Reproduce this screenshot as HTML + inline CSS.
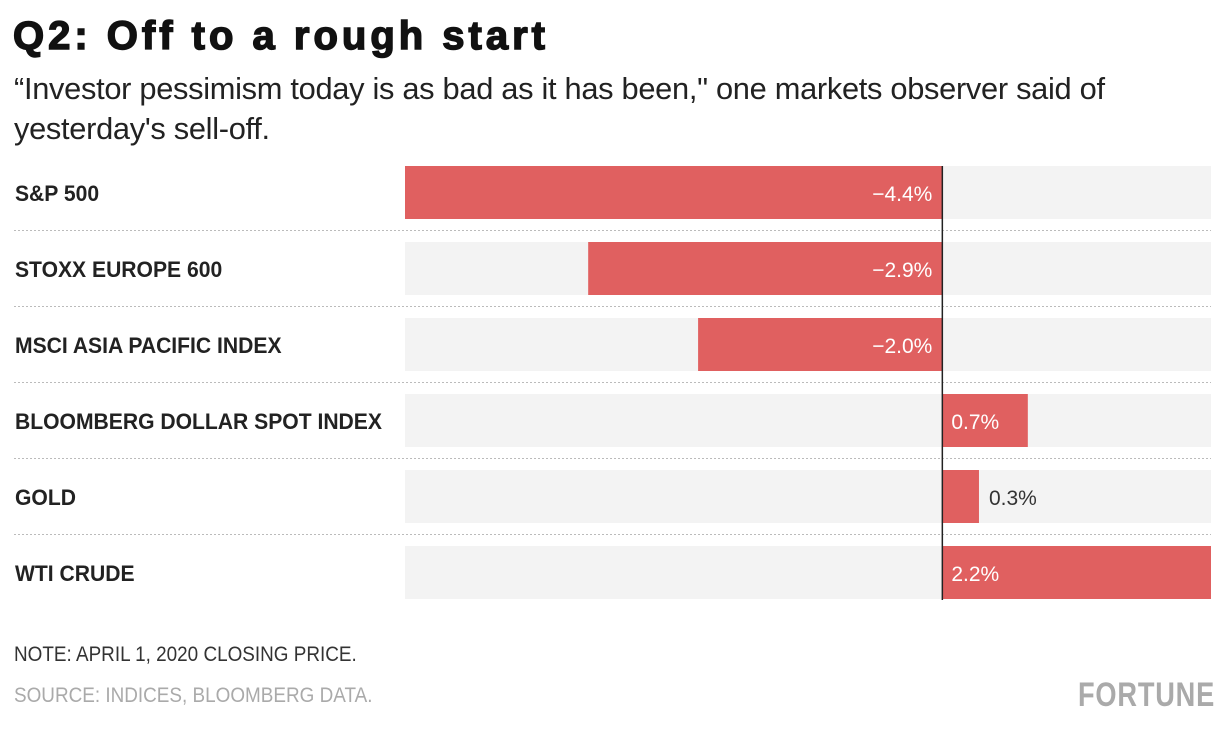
<!DOCTYPE html>
<html><head><meta charset="utf-8"><style>
body{margin:0;background:#fff;width:1232px;height:736px;overflow:hidden;font-family:"Liberation Sans",sans-serif;position:relative}
.t{position:absolute;white-space:nowrap}
</style></head><body>
<div class="t" style="left:13px;top:14px;font-size:40px;font-weight:900;letter-spacing:4px;color:#111;-webkit-text-stroke:1.5px #111">Q2: Off to a rough start</div>
<div class="t" style="left:14px;top:69px;font-size:30.8px;line-height:40px;color:#222;letter-spacing:-0.3px">“Investor pessimism today is as bad as it has been," one markets observer said of<br>yesterday's sell-off.</div>
<svg id="c" width="1232" height="736" style="position:absolute;left:0;top:0"></svg>
<div class="t" style="left:14px;top:643px;font-size:21px;color:#333;transform:scaleX(0.9);transform-origin:left">NOTE: APRIL 1, 2020 CLOSING PRICE.</div>
<div class="t" style="left:14px;top:684px;font-size:21px;color:#aaa;transform:scaleX(0.9);transform-origin:left">SOURCE: INDICES, BLOOMBERG DATA.</div>
<div class="t" style="left:1078px;top:676px;font-size:34px;font-weight:bold;color:#aaa;letter-spacing:1px;transform:scaleX(0.8);transform-origin:left">FORTUNE</div>
<script>
const categories=["S&P 500","STOXX EUROPE 600","MSCI ASIA PACIFIC INDEX","BLOOMBERG DOLLAR SPOT INDEX","GOLD","WTI CRUDE"];
const values=[-4.4,-2.9,-2.0,0.7,0.3,2.2];
const labels=["−4.4%","−2.9%","−2.0%","0.7%","0.3%","2.2%"];
const svg=document.getElementById('c');const NS="http://www.w3.org/2000/svg";
const x0=405,x1=1211,vmin=-4.4,vmax=2.2;
const x=v=>x0+(v-vmin)/(vmax-vmin)*(x1-x0);
const y=i=>166+i*76;const bh=53;
function mk(t,a){const e=document.createElementNS(NS,t);for(const k in a)e.setAttribute(k,a[k]);svg.appendChild(e);return e;}
categories.forEach((c,i)=>{
 const bg=mk('rect',{x:x0,y:y(i),width:x1-x0,height:bh,fill:'#f3f3f3'});
 
 
 const v=values[i];const a=x(Math.min(0,v)),b=x(Math.max(0,v));
 const r=mk('rect',{x:a,y:y(i),width:b-a,height:bh,fill:'#e06060'});
 
 
 const l=mk('text',{x:15,y:y(i)+35,'font-size':22,'font-weight':'bold',fill:'#222',transform:'translate(15 0) scale(0.96 1) translate(-15 0)'});l.textContent=c;
 
 
 const inside=Math.abs(b-a)>70;
 let vt;
 if(v<0) vt=mk('text',{x:x(0)-10,y:y(i)+35,'font-size':21,'text-anchor':'end',fill:'#fff'});
 else if(inside) vt=mk('text',{x:x(0)+9,y:y(i)+35,'font-size':21,fill:'#fff'});
 else vt=mk('text',{x:b+10,y:y(i)+35,'font-size':21,fill:'#333'});
 vt.textContent=labels[i];
 
 
 if(i<categories.length-1){const s=mk('line',{x1:14,x2:1211,y1:y(i)+bh+11.5,y2:y(i)+bh+11.5,stroke:'#bbb','stroke-dasharray':'2,2'});
 
 }
});
const z=mk('line',{x1:x(0),x2:x(0),y1:166,y2:600,stroke:'#222','stroke-width':1.5});


</script>
</body></html>
